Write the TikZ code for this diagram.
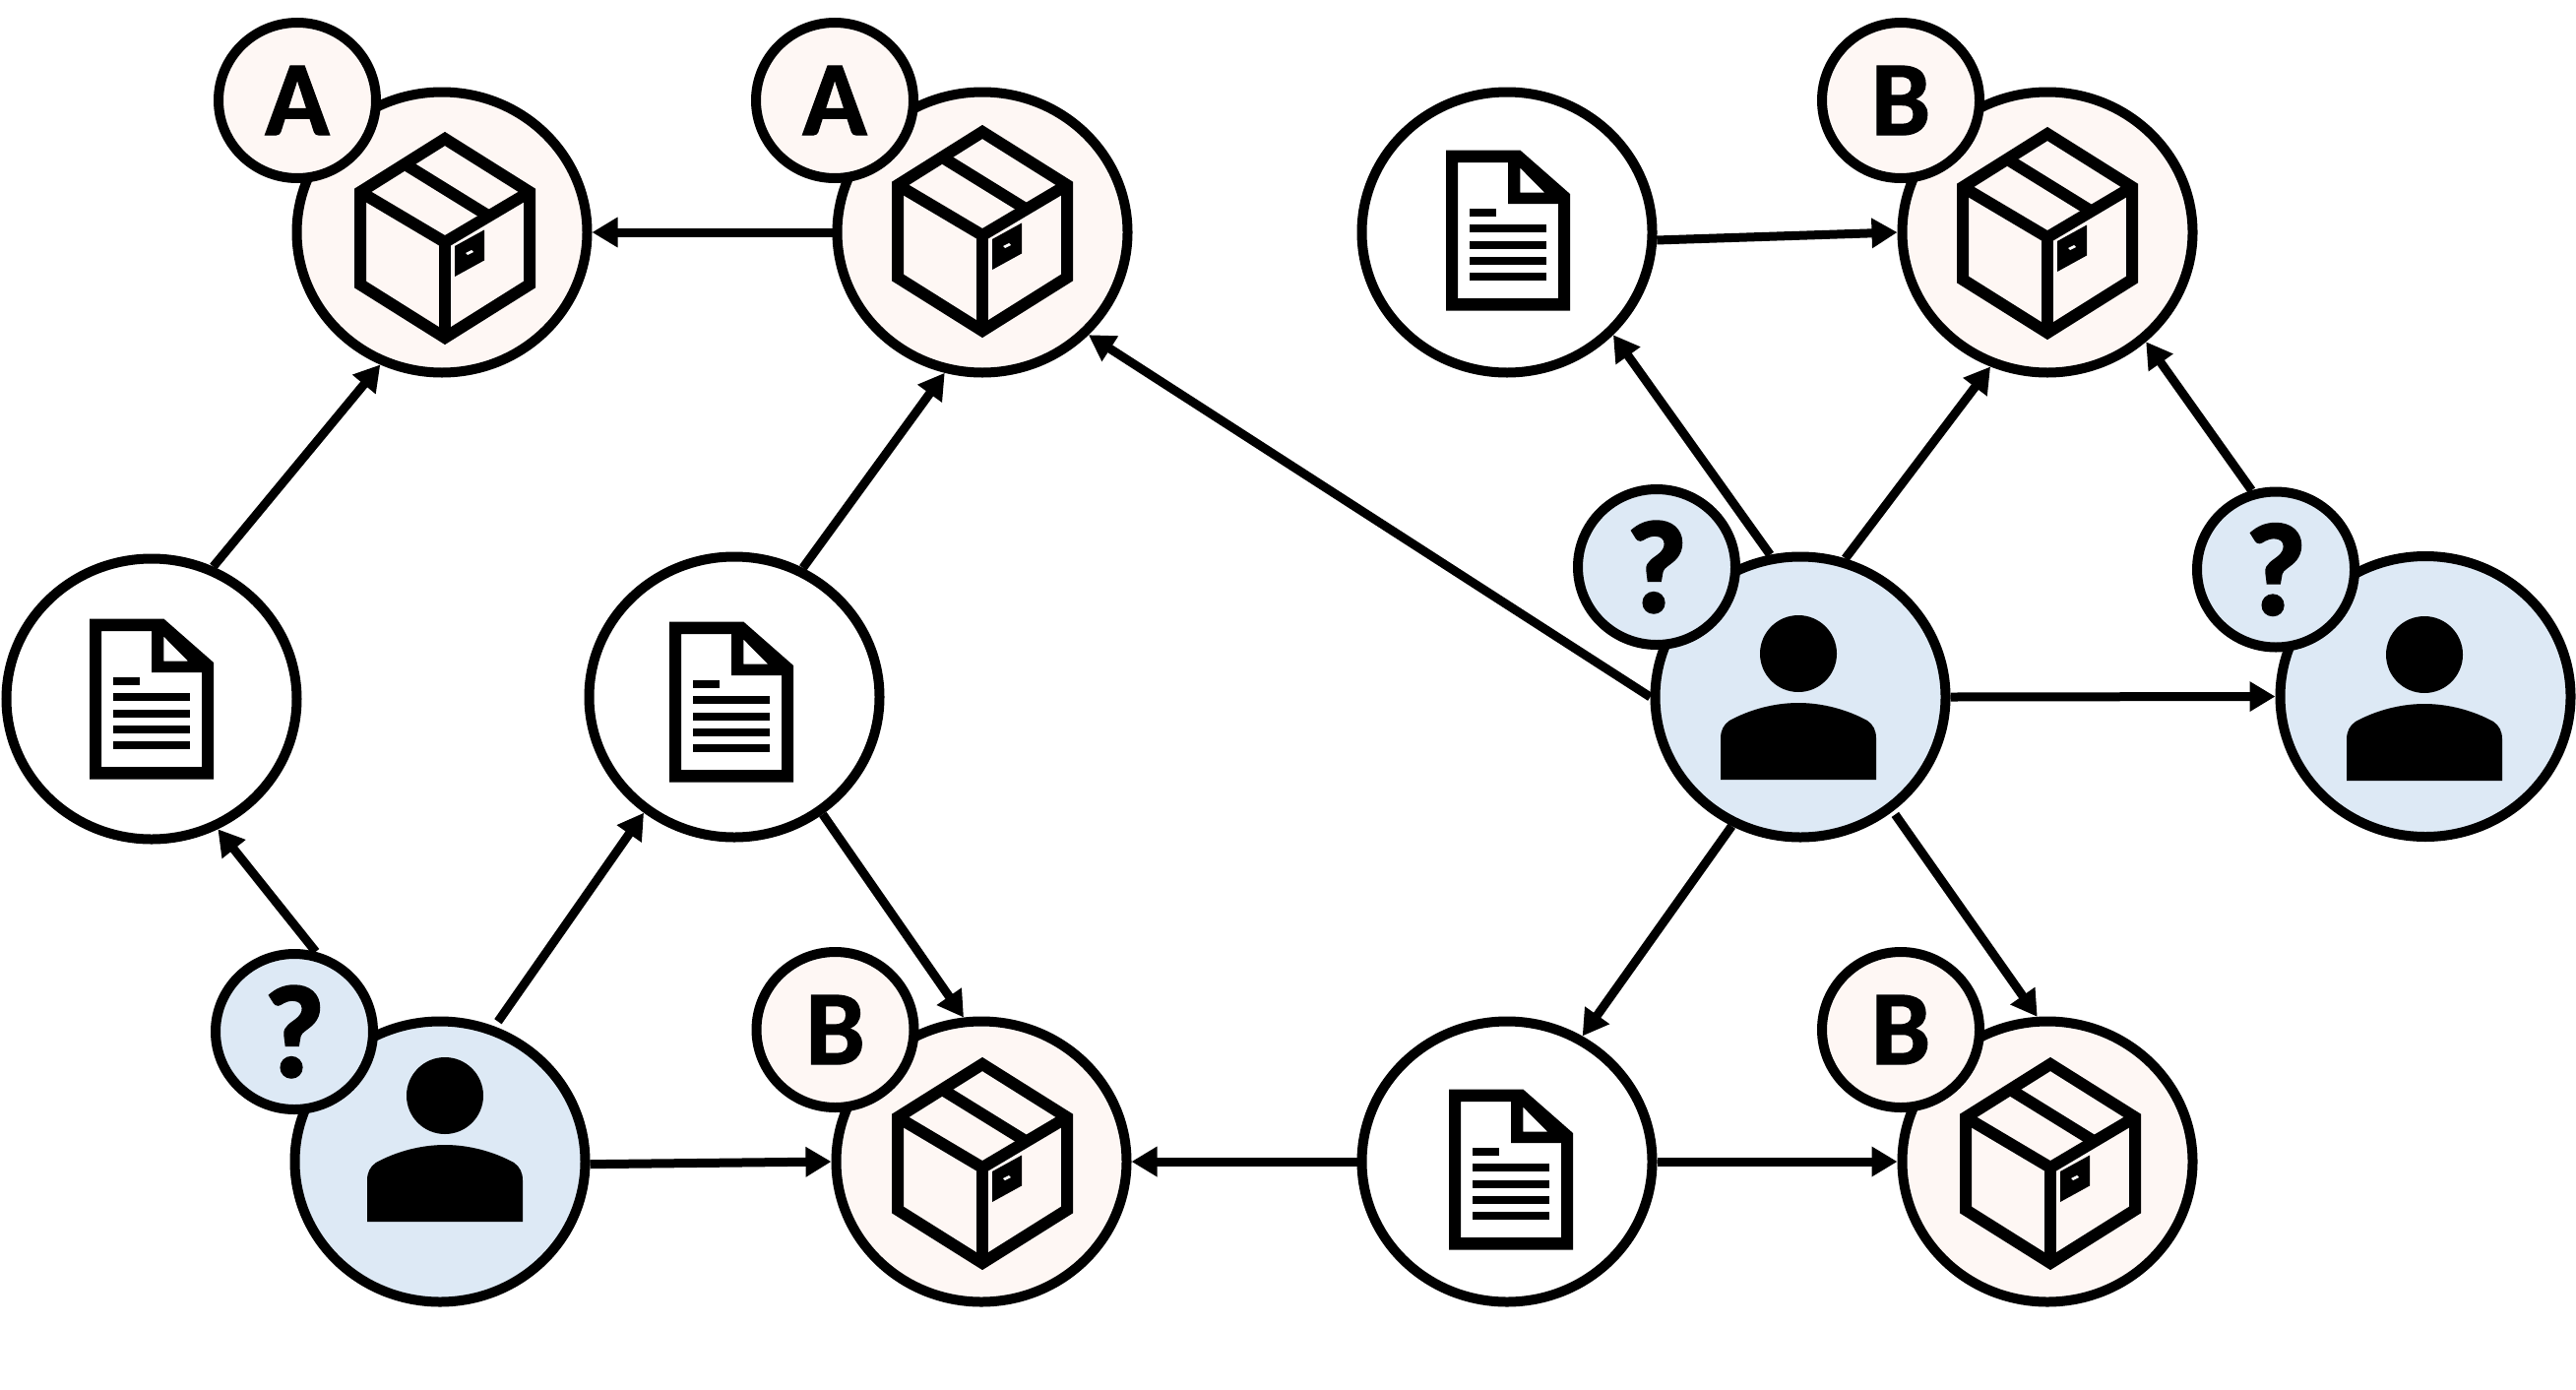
\documentclass[tikz,border=0pt]{standalone}
\usepackage{fontspec}
\setmainfont{Open Sans}
\newfontfamily\lettersfont[FakeBold=1.2]{Carlito}
\newfontfamily\queryfont[FakeBold=2.6]{Carlito}
\usetikzlibrary{shapes.geometric,arrows.meta}
\definecolor{warm}{HTML}{FEF7F4}
\definecolor{cool}{HTML}{DDE9F5}
\tikzset{
  x=1pt,y=-1pt,
  bignode/.style={ellipse,draw=black,line width=10pt,minimum width=295pt,minimum height=285pt,inner sep=0pt},
  badge/.style={ellipse,draw=black,line width=10pt,minimum width=160pt,minimum height=158pt,inner sep=0pt,font=\fontsize{108}{108}\lettersfont\bfseries},
  qbadge/.style={badge,font=\fontsize{132}{132}\queryfont\bfseries},
  link/.style={draw=black,line width=9pt,-{Triangle[length=26pt,width=29pt]}},
  pics/boxicon/.style={code={
    \draw[line width=12pt,miter limit=10,line join=miter] (0,-101)--(86,-47)--(86,47)--(0,101)--(-86,47)--(-86,-47)--cycle;
    \draw[line width=12pt,line join=miter] (-86,-47)--(0,4)--(86,-47);
    \draw[line width=12pt] (0,4)--(0,101);
    \draw[line width=12pt] (-42,-76)--(47,-21);
    \fill[black] (10,8)--(40,-8.5)--(40,22.5)--(10,39)--cycle;
    \fill[white] (21,15)--(27,12)--(29,14)--(23,17)--cycle;
  }},
  pics/docicon/.style={code={
    \fill[black,even odd rule] (-63,-81.5)--(12.3,-81.5)--(63,-37)--(63,81.5)--(-63,81.5)--cycle
      (-51,-69)--(0,-69)--(0,-27)--(51,-27)--(51,69)--(-51,69)--cycle
      (12.3,-63.5)--(12.3,-38.5)--(37,-38.5)--cycle;
    \fill[black] (-38.7,-22.5) rectangle (-12.3,-14);
    \fill[black] (-38.7,-6) rectangle (38.7,2);
    \fill[black] (-38.7,10.5) rectangle (38.7,18.5);
    \fill[black] (-38.7,26.5) rectangle (38.7,35);
    \fill[black] (-38.7,43) rectangle (38.7,51);
  }},
  pics/personicon/.style={code={
    \fill[black] (0,0) circle[radius=39];
    \fill[black] (-79,128)--(-79,86) .. controls (-79,78) and (-76,72) .. (-70,68)
      .. controls (-50,57) and (-25,50) .. (0,50)
      .. controls (25,50) and (50,57) .. (70,68)
      .. controls (76,72) and (79,78) .. (79,86)--(79,128)--cycle;
  }},
}
\begin{document}
\begin{tikzpicture}
\path[use as bounding box,fill=white] (0,0) rectangle (2617,1411);
% large nodes
\node[bignode,fill=warm]  (boxA1) at (449,236) {};
\node[bignode,fill=warm]  (boxA2) at (998,236) {};
\node[bignode,fill=white] (docT)  at (1531,236) {};
\node[bignode,fill=warm]  (boxB1) at (2080,236) {};
\node[bignode,fill=white] (docL)  at (154,710) {};
\node[bignode,fill=white] (docM)  at (746,708) {};
\node[bignode,fill=cool]  (perR)  at (1829,708) {};
\node[bignode,fill=cool]  (perF)  at (2464,707.5) {};
\node[bignode,fill=cool]  (perL)  at (447,1180) {};
\node[bignode,fill=warm]  (boxB2) at (997,1180) {};
\node[bignode,fill=white] (docB)  at (1531,1180) {};
\node[bignode,fill=warm]  (boxB3) at (2080,1180) {};
% icons
\pic at (452,242) {boxicon};
\pic at (998,235) {boxicon};
\pic at (2080,237) {boxicon};
\pic at (998,1182) {boxicon};
\pic at (2083,1182) {boxicon};
\pic at (154,710) {docicon};
\pic at (743,713) {docicon};
\pic at (1532,234) {docicon};
\pic at (1535,1188) {docicon};
\pic at (1827,664) {personicon};
\pic at (2463,665) {personicon};
\pic at (452,1113) {personicon};
% badges
\node[badge,fill=warm] (bA1) at (302,102) {A};
\node[badge,fill=warm] (bA2) at (848,102) {A};
\node[badge,fill=warm] (bB1) at (1931,102) {B};
\node[qbadge,fill=cool] (bQ1) at (1683,576) {?};
\node[qbadge,fill=cool] (bQ2) at (2312,578.5) {?};
\node[qbadge,fill=cool] (bQ3) at (299,1048) {?};
\node[badge,fill=warm] (bB2) at (848.5,1046) {B};
\node[badge,fill=warm] (bB3) at (1931,1046) {B};
% connectors
\draw[link] (docL.65.4) -- (boxA1.245);
\draw[link] (docM.62.6) -- (boxA2.255);
\draw[link] (boxA2.180) -- (boxA1.0);
\draw[link] (perR.180) -- (boxA2.316.6);
\draw[link] (perR.102) -- (docT.316.6);
\draw[link] (perR.72.4) -- (boxB1.247);
\draw[link] (docT.357.7) -- (boxB1.180);
\draw[link] (bQ2.107) -- (boxB1.312);
\draw[link] (perR.0) -- (perF.180);
\draw[link] (perR.242) -- (docB.59);
\draw[link,shorten <=4pt] (perR.309.5) -- (boxB3.94.3);
\draw[link] (docB.180) -- (boxB2.0);
\draw[link] (docB.0) -- (boxB3.180);
\draw[link] (docM.307.7) -- (boxB2.97);
\draw[link] (perL.359) -- (boxB2.180);
\draw[link,shorten <=6pt] (perL.68.3) -- (docM.232.7);
\draw[link] (bQ3.75) -- (docL.297);
\end{tikzpicture}
\end{document}
